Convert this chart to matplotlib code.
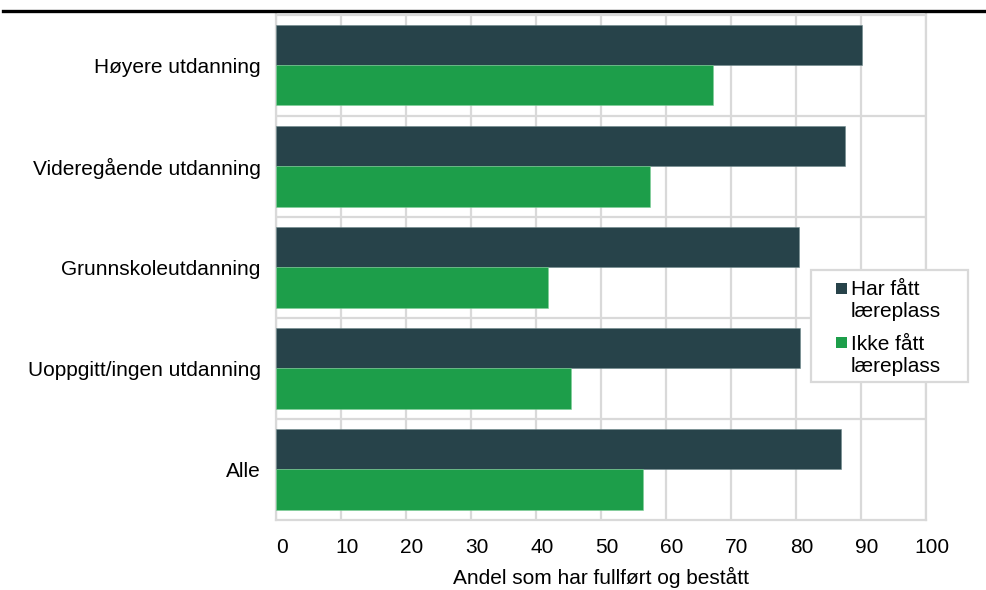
import matplotlib
matplotlib.use("Agg")
import matplotlib.pyplot as plt
import matplotlib.transforms as mtrans
import numpy as np
from matplotlib.patches import Rectangle
from matplotlib.legend_handler import HandlerPatch

categories = ["Høyere utdanning", "Videregående utdanning", "Grunnskoleutdanning",
              "Uoppgitt/ingen utdanning", "Alle"]
har_fatt = [90.1, 87.6, 80.5, 80.6, 87.0]
ikke_fatt = [67.3, 57.6, 41.9, 45.4, 56.4]
series_labels = ["Har fått\nlæreplass", "Ikke fått\nlæreplass"]
x_ticks = [0, 10, 20, 30, 40, 50, 60, 70, 80, 90, 100]
x_label = "Andel som har fullført og bestått"

DARK = "#27434a"
GREEN = "#1d9e4a"
GRID = "#d9d9d9"
FS = 15

plt.rcParams['font.family'] = ['Liberation Sans', 'DejaVu Sans']

W, H = 987, 590
fig = plt.figure(figsize=(W / 100, H / 100), dpi=100)
ax = fig.add_axes([276 / W, (H - 520) / H, (926 - 276) / W, (520 - 14.5) / H])

y = np.arange(len(categories))
h = 0.4
ax.barh(y - h / 2, har_fatt, height=h, color=DARK, edgecolor="#6f8a8c", linewidth=0.4,
        zorder=3)
ax.barh(y + h / 2, ikke_fatt, height=h, color=GREEN, edgecolor="#7fcf98", linewidth=0.4,
        zorder=3)

ax.set_ylim(len(categories) - 0.5, -0.5)
ax.set_xlim(0, 100)
ax.set_yticks(y)
ax.set_yticklabels(categories, fontsize=FS)
ax.set_yticks(np.arange(len(categories) - 1) + 0.5, minor=True)
ax.set_xticks(x_ticks)
ax.set_xticklabels([str(t) for t in x_ticks], fontsize=FS)
ax.tick_params(axis="both", which="both", length=0)
ax.tick_params(axis="y", pad=11)
ax.tick_params(axis="x", pad=13)
shift = mtrans.ScaledTranslation(6 / 100, 0, fig.dpi_scale_trans)
for lab in ax.get_xticklabels():
    lab.set_transform(lab.get_transform() + shift)
ax.grid(True, axis="x", which="major", color=GRID, linewidth=1.6, zorder=0)
ax.grid(True, axis="y", which="minor", color=GRID, linewidth=1.6, zorder=0)
for s in ax.spines.values():
    s.set_color(GRID)
    s.set_linewidth(1.6)
ax.set_xlabel(x_label, fontsize=FS, labelpad=7)


class TopSquare(HandlerPatch):
    def create_artists(self, legend, orig_handle, xdescent, ydescent, width, height,
                       fontsize, trans):
        side = 0.53 * fontsize
        x0 = -xdescent + width - side
        y0 = -ydescent + (height - side) / 2 + 0.6 * fontsize
        p = Rectangle((x0, y0), side, side, facecolor=orig_handle.get_facecolor(),
                      edgecolor="none", transform=trans)
        return [p]


proxies = [Rectangle((0, 0), 1, 1, facecolor=DARK), Rectangle((0, 0), 1, 1, facecolor=GREEN)]
leg = fig.legend(proxies, series_labels, loc="upper left",
                 bbox_to_anchor=(811 / W, 1 - 270 / H),
                 bbox_transform=fig.transFigure, fontsize=FS, frameon=False,
                 handlelength=1.23, handleheight=0.53,
                 handletextpad=0.19, borderpad=0.5, labelspacing=0.63,
                 borderaxespad=0, handler_map={Rectangle: TopSquare()})

fig.add_artist(Rectangle((811 / W, 1 - 382 / H), (968 - 811) / W, (382 - 270) / H,
                         transform=fig.transFigure, facecolor="white",
                         edgecolor=GRID, linewidth=1.6, zorder=4))
leg.set_zorder(5)

fig.add_artist(plt.Line2D([3 / W, 1], [1 - 11 / H, 1 - 11 / H], color="black",
                          linewidth=2.4, transform=fig.transFigure))

fig.savefig("out.png", dpi=100)
